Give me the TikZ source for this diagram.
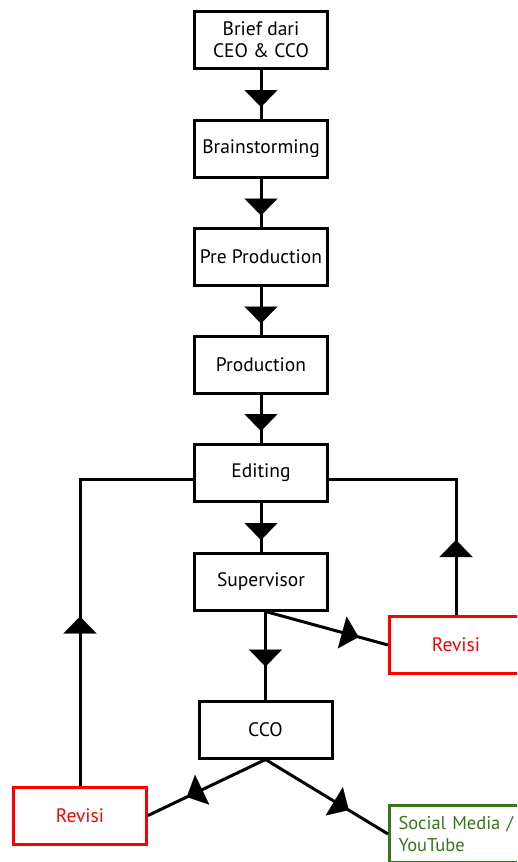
\documentclass[tikz,border=0pt]{standalone}
\usepackage{fontspec}
\setmainfont{PT Sans}
\usetikzlibrary{arrows.meta,decorations.markings,calc}
\definecolor{rvred}{RGB}{255,0,0}
\definecolor{smgreen}{RGB}{56,118,29}
\begin{document}
\begin{tikzpicture}[x=1pt,y=-1pt,
  box/.style={draw=black, line width=3pt, minimum width=133pt, minimum height=57pt,
    inner sep=0pt, align=center, font=\fontsize{19.5}{22}\selectfont},
  revbox/.style={box, draw=rvred, text=rvred},
  smbox/.style={box, draw=smgreen, text=smgreen, align=left, text width=115pt, inner xsep=9pt},
  conn/.style={line width=3pt},
  tipat/.style={postaction={decorate}, decoration={markings,
    mark=at position #1 with {\arrow{Triangle[width=33pt,length=17pt,line width=0.1pt]}}}},
]
\useasboundingbox (0,0) rectangle (517,862);
\clip (0,0) rectangle (517,862);
\node[box] (brief) at (261,40) {Brief dari\\CEO \& CCO};
\node[box] (brain) at (261,148.5) {Brainstorming};
\node[box] (pre) at (261,257) {Pre Production};
\node[box] (prod) at (261,365) {Production};
\node[box] (edit) at (261,472.5) {Editing};
\node[box] (sup) at (261,581.5) {Supervisor};
\node[box] (cco) at (265.5,729.5) {CCO};
\node[revbox] (revR) at (456,645) {Revisi};
\node[revbox] (revL) at (80,815.5) {Revisi};
\node[smbox, font=\fontsize{18.5}{22}\selectfont] (sm) at (456,834) {\mbox{Social Media /}\\YouTube};
\coordinate (editL) at ($(edit.west)+(0,6.5)$);
\coordinate (editR) at ($(edit.east)+(0,6.5)$);
\coordinate (supB) at (sup.south -| cco.north);
\coordinate (ccoB) at (cco.south);
\draw[conn, tipat=-11.5pt] (brief) -- (brain);
\draw[conn, tipat=-11.5pt] (brain) -- (pre);
\draw[conn, tipat=-11.5pt] (pre) -- (prod);
\draw[conn, tipat=-11.5pt] (prod) -- (edit);
\draw[conn, tipat=-11.5pt] (edit) -- (sup);
\draw[conn, tipat=-33pt] (supB) -- (cco.north);
\draw[conn, tipat=0.76] (supB) -- (revR.west);
\draw[conn, tipat=0.67] (ccoB) -- (revL.east);
\draw[conn, tipat=0.68] (ccoB) -- (sm.west);
\draw[conn, tipat=75pt] (revR.north) -- (revR.north |- editR) -- (editR);
\draw[conn, tipat=169pt] (revL.north) -- (revL.north |- editL) -- (editL);
\end{tikzpicture}
\end{document}
